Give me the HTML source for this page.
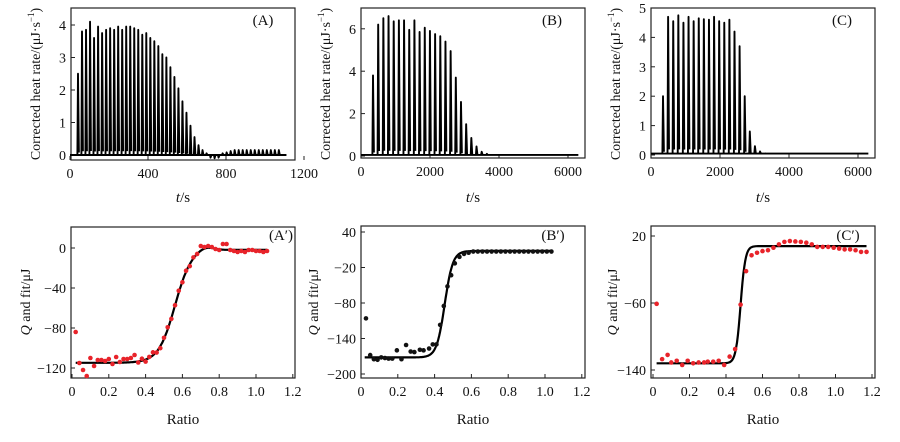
<!DOCTYPE html>
<html><head><meta charset="utf-8"><style>
html,body{margin:0;padding:0;background:#fff;}
svg{display:block;font-family:"Liberation Serif",serif;}
</style></head><body>
<svg id="s" width="900" height="442" viewBox="0 0 900 442" xmlns="http://www.w3.org/2000/svg"></svg>
<script>
const S=document.getElementById('s');let h='';
function fr(x0,y0,x1,y1){h+=`<rect x="${x0}" y="${y0}" width="${x1-x0}" height="${y1-y0}" fill="none" stroke="#222" stroke-width="1.2"/>`;}
function txt(x,y,t,o={}){h+=`<text x="${x}" y="${y}" font-size="${o.fs||14}" text-anchor="${o.a||'middle'}" ${o.tr?`transform="${o.tr}"`:''} fill="#111">${t}</text>`;}
function panel(P){
 const X=v=>P.px0+(v-P.vx0)*P.sx, Y=v=>P.py0-(v-P.vy0)*P.sy;
 fr(P.fx0,P.fy0,P.fx1,P.fy1);
 P.xt.forEach(v=>{h+=`<line x1="${X(v)}" y1="${P.fy1}" x2="${X(v)}" y2="${P.fy1-4}" stroke="#222"/>`;txt(X(v),P.fy1+18,P.xl?P.xl(v):v);});
 P.yt.forEach(v=>{h+=`<line x1="${P.fx0}" y1="${Y(v)}" x2="${P.fx0+4}" y2="${Y(v)}" stroke="#222"/>`;txt(P.fx0-5,Y(v)+5,String(v).replace('-','−'),{a:'end'});});
 return [X,Y];
}
function spikes(X,Y,t0,dt,amps,base,tend){
 let d=`M${X(0)} ${Y(base)} L${X(tend)} ${Y(base)}`;
 amps.forEach((a,i)=>{const t=t0+i*dt,x=X(t);d+=` M${x-0.6} ${Y(base)} L${x} ${Y(a)} L${x+0.9} ${Y(base+a*0.03)}`;});
 h+=`<path d="${d}" fill="none" stroke="#000" stroke-width="1.9" stroke-linejoin="round"/>`;
}
let [X,Y]=panel({fx0:71,fy0:8,fx1:295,fy1:160,px0:70,vx0:0,sx:78/400,py0:155,vy0:0,sy:32.5,xt:[0,400,800,1200],yt:[0,1,2,3,4]});
let aA=[2.5,3.8,3.85,4.1,3.6,3.95,3.75,3.85,3.9,3.85,3.95,3.85,3.95,3.95,3.9,3.85,3.7,3.75,3.6,3.5,3.35,3.1,3.0,2.7,2.4,2.05,1.65,1.3,0.9,0.55,0.3,0.15,0.05,-0.08,-0.1,-0.08,0.05,0.08,0.12,0.15,0.15,0.15,0.15,0.15,0.15,0.15,0.15,0.15,0.15,0.15,0.15];
spikes(X,Y,41,20.6,aA,0,1110);
txt(263,25,'(A)',{fs:15});
[X,Y]=panel({fx0:361,fy0:8,fx1:585,fy1:158,px0:361,vx0:0,sx:69/2000,py0:156,vy0:0,sy:21.2,xt:[0,2000,4000,6000],yt:[0,2,4,6]});
let aB=[3.8,6.2,6.5,6.6,6.35,6.4,6.4,5.95,6.4,5.85,6.05,5.9,5.75,5.65,5.4,4.95,3.7,2.55,1.5,0.85,0.45,0.2,0.1,0.05];
spikes(X,Y,348,150,aB,0.05,6300);
txt(552,25,'(B)',{fs:15});
[X,Y]=panel({fx0:651,fy0:8,fx1:875,fy1:158,px0:651,vx0:0,sx:69/2000,py0:155,vy0:0,sy:29.4,xt:[0,2000,4000,6000],yt:[0,1,2,3,4,5]});
let aC=[2.0,4.7,4.55,4.75,4.5,4.7,4.55,4.65,4.62,4.6,4.7,4.55,4.5,4.6,4.2,3.7,2.0,0.8,0.3,0.12,0.05];
spikes(X,Y,348,148,aC,0.05,6300);
txt(842,25,'(C)',{fs:15});
['35','325','615'].forEach(x=>txt(0,0,'Corrected heat rate/(μJ·s<tspan font-size="9" dy="-6">−1</tspan><tspan dy="6">)</tspan>',{tr:`translate(${+x+5},84) rotate(-90)`}));
[183,473,763].forEach(x=>txt(x,202,'<tspan font-style="italic">t</tspan>/s',{fs:15}));
[183,473,763].forEach(x=>txt(x,424,'Ratio',{fs:15}));
[25,313,612].forEach(x=>txt(0,0,'<tspan font-style="italic">Q</tspan> and fit/μJ',{tr:`translate(${x+5},302) rotate(-90)`,fs:14}));
const rl=v=>v===0?'0':v.toFixed(1);
const dots=(X,Y,pts,c)=>pts.forEach(p=>h+=`<circle cx="${X(p[0])}" cy="${Y(p[1])}" r="2.3" fill="${c}"/>`);
const fit=(X,Y,f,a,b)=>{let d='';for(let x=a;x<=b;x+=0.005)d+=(d?'L':'M')+X(x).toFixed(1)+' '+Y(f(x)).toFixed(1);h+=`<path d="${d}" fill="none" stroke="#000" stroke-width="2.2"/>`;};
// A'
[X,Y]=panel({fx0:71,fy0:227,fx1:295,fy1:378,px0:72,vx0:0,sx:184,py0:248,vy0:0,sy:1,xt:[0,0.2,0.4,0.6,0.8,1.0,1.2],yt:[0,-40,-80,-120],xl:rl});
const fA=x=>-115/(1+Math.exp((x-0.56)/0.045))+3*Math.exp(-Math.pow((x-0.73)/0.06,2))-2/(1+Math.exp(-(x-0.75)/0.03))+0.2;
fit(X,Y,fA,0.02,1.06);
let ap=[[0.02,-84],[0.04,-115],[0.06,-122],[0.08,-128],[0.10,-110],[0.12,-118],[0.14,-112],[0.16,-112],[0.18,-113],[0.20,-111],[0.22,-116],[0.24,-109],[0.26,-114],[0.28,-111],[0.30,-111],[0.32,-110],[0.34,-107]];
const noise=[-1,2,-2,1,3,-1,-2,1,2,-1,0,2,-1,1,-2,1,0,1,-1];
let k=0;for(let x=0.36;x<0.7;x+=0.02)ap.push([x,fA(x)+noise[k++%noise.length]]);
ap.push([0.70,2],[0.72,1],[0.74,2],[0.76,1],[0.78,-1],[0.80,-2],[0.82,4],[0.84,4],[0.86,-2],[0.88,-3],[0.90,-4],[0.92,-3],[0.94,-4],[0.96,-2],[0.98,-2],[1.00,-3],[1.02,-3],[1.04,-4],[1.06,-3]);
dots(X,Y,ap,'#e8232a');
txt(281,240,'(A′)',{fs:15});
// B'
[X,Y]=panel({fx0:361,fy0:226,fx1:585,fy1:378,px0:361,vx0:0,sx:184,py0:232,vy0:40,sy:35.5/60,xt:[0,0.2,0.4,0.6,0.8,1.0,1.2],yt:[40,-20,-80,-140,-200],xl:rl});
fit(X,Y,x=>-180/(1+Math.exp((x-0.455)/0.022))+8,0.02,1.04);
let bp=[[0.027,-106],[0.05,-168],[0.07,-175],[0.09,-176],[0.11,-172],[0.13,-173],[0.15,-174],[0.17,-174],[0.195,-160],[0.22,-175],[0.245,-151],[0.27,-162],[0.29,-163],[0.32,-159],[0.34,-160],[0.37,-157],[0.39,-150],[0.41,-150],[0.43,-117],[0.45,-85],[0.47,-52],[0.49,-33],[0.51,-13],[0.535,-2],[0.56,3],[0.585,5]];
for(let x=0.61;x<=1.045;x+=0.025)bp.push([x,7]);
dots(X,Y,bp,'#111');
txt(553,240,'(B′)',{fs:15});
// C'
[X,Y]=panel({fx0:651,fy0:226,fx1:875,fy1:378,px0:653,vx0:0,sx:182.5,py0:236,vy0:20,sy:67/80,xt:[0,0.2,0.4,0.6,0.8,1.0,1.2],yt:[20,-60,-140],xl:rl});
fit(X,Y,x=>-140/(1+Math.exp((x-0.48)/0.013))+8,0.02,1.17);
let cp=[[0.02,-61],[0.05,-127],[0.08,-122],[0.10,-131],[0.13,-129],[0.16,-134],[0.19,-129],[0.22,-132],[0.25,-131],[0.28,-131],[0.30,-130],[0.33,-130],[0.36,-129],[0.39,-134],[0.42,-124],[0.45,-115],[0.48,-62],[0.51,-22],[0.54,-3],[0.57,0],[0.60,2],[0.63,3],[0.66,6],[0.69,10],[0.72,13],[0.75,14],[0.78,13.5],[0.81,13],[0.84,12],[0.87,10],[0.90,7],[0.93,7],[0.96,7],[0.99,6],[1.02,5],[1.05,4],[1.08,4],[1.11,3],[1.14,1],[1.17,1]];
dots(X,Y,cp,'#e8232a');
txt(848,240,'(C′)',{fs:15});
S.innerHTML=h;
</script>
</body></html>
